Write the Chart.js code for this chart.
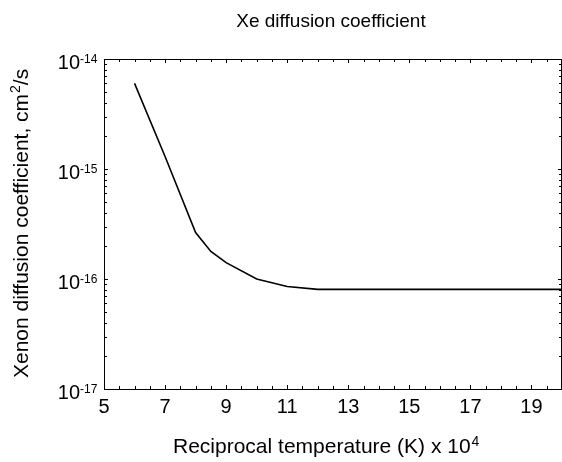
<!DOCTYPE html>
<html>
<head>
<meta charset="utf-8">
<script src="https://cdn.jsdelivr.net/npm/chart.js@4"></script>
<style>
    html, body { margin: 0; padding: 0; background: #fff; }
    canvas { display: block; }
</style>
</head>
<body>
<canvas id="xe-diffusion" width="562" height="462"></canvas>
<script>
// Values
const recip_temp = [6, 7, 8, 8.5, 9, 10, 11, 12, 13, 14, 15, 16, 17, 18, 19, 20];
const diff_coeff = [6.0e-15, 1.3e-15, 2.64e-16, 1.78e-16, 1.41e-16, 1.0e-16, 8.55e-17, 8.05e-17,
                    8.05e-17, 8.05e-17, 8.05e-17, 8.05e-17, 8.05e-17, 8.05e-17, 8.05e-17, 8.05e-17];

const x_tick_labels = [5, 7, 9, 11, 13, 15, 17, 19];
const y_tick_exps = [-14, -15, -16, -17];

const title_text = "Xe diffusion coefficient";
const x_title = "Reciprocal temperature (K) x 10";
const x_title_exp = "4";
const y_title = "Xenon diffusion coefficient, cm";
const y_title_exp = "2";
const y_title_end = "/s";

const font_name = "'Liberation Sans', Arial, sans-serif";

// axis frame, inward ticks and all text
const frame_plugin = {
    id: "frame",
    afterDraw(chart) {
        const ctx = chart.ctx;
        const area = chart.chartArea;
        const xs = chart.scales.x;
        const ys = chart.scales.y;

        ctx.save();
        ctx.strokeStyle = "#000";
        ctx.lineWidth = 1;
        ctx.strokeRect(area.left + 0.5, area.top + 0.5, area.right - area.left - 1, area.bottom - area.top);

        // x ticks every 0.5, bottom and top
        ctx.beginPath();
        for (let v = 5.5; v < 20; v += 0.5) {
            const px = Math.round(xs.getPixelForValue(v)) + 0.5;
            const len = (v % 2 === 1) ? 4 : 3;
            ctx.moveTo(px, area.bottom);
            ctx.lineTo(px, area.bottom - len);
            ctx.moveTo(px, area.top);
            ctx.lineTo(px, area.top + len);
        }
        // y ticks, decades and minor, left and right
        for (let e = -17; e < -14; e ++) {
            for (let m = 1; m <= 9; m ++) {
                if (e === -17 && m === 1) continue;
                const py = Math.round(ys.getPixelForValue(m * Math.pow(10, e))) + 0.5;
                const len = (m === 1) ? 4 : 3;
                ctx.moveTo(area.left, py);
                ctx.lineTo(area.left + len, py);
                ctx.moveTo(area.right, py);
                ctx.lineTo(area.right - len, py);
            }
        }
        ctx.stroke();

        ctx.fillStyle = "#000";

        // x tick labels
        ctx.font = "20px " + font_name;
        ctx.textAlign = "center";
        ctx.textBaseline = "alphabetic";
        for (let i = 0; i < x_tick_labels.length; i ++) {
            ctx.fillText(String(x_tick_labels[i]), xs.getPixelForValue(x_tick_labels[i]), 413);
        }

        // y tick labels 10^n
        for (let i = 0; i < y_tick_exps.length; i ++) {
            const py = ys.getPixelForValue(Math.pow(10, y_tick_exps[i]));
            ctx.textAlign = "right";
            ctx.font = "20px " + font_name;
            ctx.fillText("10", 80, py + 10);
            ctx.textAlign = "left";
            ctx.font = "12px " + font_name;
            ctx.fillText(String(y_tick_exps[i]), 80, py + 3.5);
        }

        // chart title
        ctx.textAlign = "center";
        ctx.font = "19px " + font_name;
        ctx.fillText(title_text, 331, 27);

        // x axis title
        ctx.textAlign = "left";
        ctx.font = "21px " + font_name;
        ctx.fillText(x_title, 173, 453);
        const xw = ctx.measureText(x_title).width;
        ctx.font = "14px " + font_name;
        ctx.fillText(x_title_exp, 173 + xw + 1, 446);

        // y axis title
        ctx.translate(28, 378);
        ctx.rotate(-Math.PI / 2);
        ctx.font = "21px " + font_name;
        ctx.fillText(y_title, 0, 0);
        let w = ctx.measureText(y_title).width;
        ctx.font = "14px " + font_name;
        ctx.fillText(y_title_exp, w + 1, -8);
        w += ctx.measureText(y_title_exp).width + 1;
        ctx.font = "21px " + font_name;
        ctx.fillText(y_title_end, w, 0);

        ctx.restore();
    }
};

let points = [];
for (let i = 0; i < recip_temp.length; i ++) {
    points.push({ x: recip_temp[i], y: diff_coeff[i] });
}

const config = {
    type: "line",
    data: {
        datasets: [{
            data: points,
            borderColor: "#000",
            borderWidth: 1.6,
            pointRadius: 0,
            tension: 0,
            fill: false
        }]
    },
    options: {
        responsive: false,
        animation: false,
        layout: {
            padding: { top: 59, left: 0, right: 0, bottom: 0 }
        },
        plugins: {
            legend: { display: false },
            tooltip: { enabled: false }
        },
        scales: {
            x: {
                type: "linear",
                min: 5,
                max: 20,
                grid: { display: false },
                border: { display: false },
                ticks: { display: false },
                afterFit: (s) => { s.height = 73; }
            },
            y: {
                type: "logarithmic",
                min: 1e-17,
                max: 1e-14,
                grid: { display: false },
                border: { display: false },
                ticks: { display: false },
                afterFit: (s) => { s.width = 104; }
            }
        }
    },
    plugins: [frame_plugin]
};

const ctx = document.getElementById("xe-diffusion").getContext("2d");
new Chart(ctx, config);
</script>
</body>
</html>
